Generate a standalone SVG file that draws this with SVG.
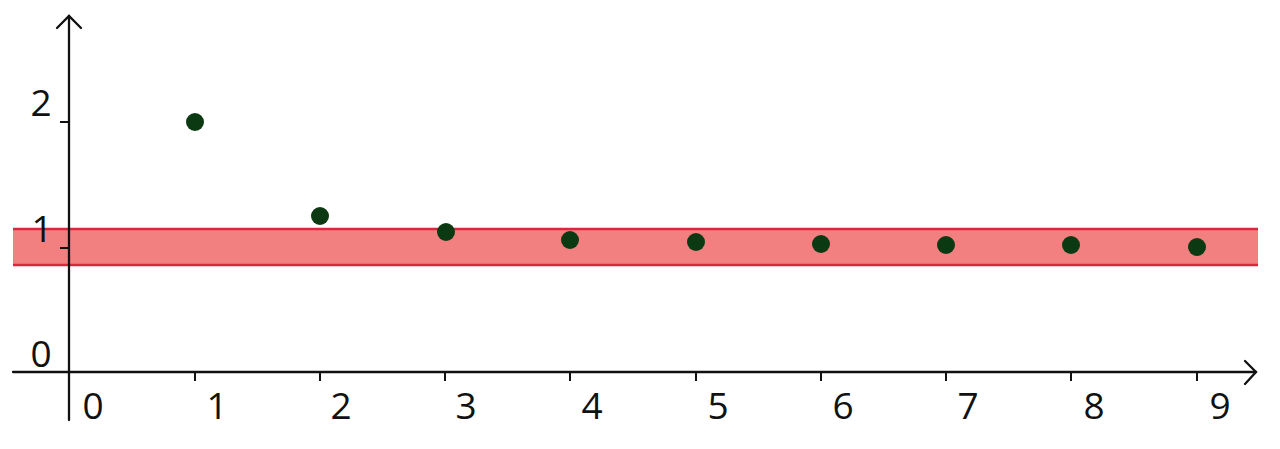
<svg xmlns="http://www.w3.org/2000/svg" width="1280" height="449" viewBox="0 0 1280 449">
<style>
.ax{stroke:#111;stroke-width:2.3;fill:none;stroke-linecap:round}
.tk{stroke:#111;stroke-width:2;fill:none}
.lbl{font-family:"Open Sans","Noto Sans",sans-serif;font-size:37px;fill:#111;text-anchor:middle}
.pt{fill:#0b3a12}
.bandline{stroke:#d8283c;stroke-width:2.5}
</style>
<rect width="1280" height="449" fill="#fff"/>
<g id="band">
<rect x="13" y="229" width="1245" height="36" fill="#f28080"/>
<line class="bandline" x1="13" y1="229" x2="1258" y2="229"/>
<line class="bandline" x1="13" y1="265" x2="1258" y2="265"/>
</g>
<g id="connectors">
<line class="ax" x1="69" y1="16" x2="69" y2="420"/>
<polyline class="ax" points="57,28 69,16 81,28"/>
<line class="ax" x1="13" y1="372" x2="1256" y2="372"/>
<polyline class="ax" points="1245,361 1256,372 1245,384"/>
<line class="tk" x1="60" y1="122" x2="69" y2="122"/>
<line class="tk" x1="60" y1="248" x2="69" y2="248"/>
<line class="tk" x1="195" y1="372" x2="195" y2="381"/>
<line class="tk" x1="320" y1="372" x2="320" y2="381"/>
<line class="tk" x1="445" y1="372" x2="445" y2="381"/>
<line class="tk" x1="570" y1="372" x2="570" y2="381"/>
<line class="tk" x1="696" y1="372" x2="696" y2="381"/>
<line class="tk" x1="821" y1="372" x2="821" y2="381"/>
<line class="tk" x1="946" y1="372" x2="946" y2="381"/>
<line class="tk" x1="1071" y1="372" x2="1071" y2="381"/>
<line class="tk" x1="1197" y1="372" x2="1197" y2="381"/>
</g>
<g id="labels">
<text class="lbl" x="41" y="116">2</text>
<text class="lbl" x="42" y="242">1</text>
<text class="lbl" x="41" y="367">0</text>
<text class="lbl" x="93" y="419">0</text>
<text class="lbl" x="217" y="419">1</text>
<text class="lbl" x="341" y="419">2</text>
<text class="lbl" x="466" y="419">3</text>
<text class="lbl" x="592" y="419">4</text>
<text class="lbl" x="718" y="419">5</text>
<text class="lbl" x="843" y="419">6</text>
<text class="lbl" x="968" y="419">7</text>
<text class="lbl" x="1094" y="419">8</text>
<text class="lbl" x="1220" y="419">9</text>
</g>
<g id="points">
<circle class="pt" cx="195" cy="122" r="9"/>
<circle class="pt" cx="320" cy="216" r="9"/>
<circle class="pt" cx="446" cy="232" r="9"/>
<circle class="pt" cx="570" cy="240" r="9"/>
<circle class="pt" cx="696" cy="242" r="9"/>
<circle class="pt" cx="821" cy="244" r="9"/>
<circle class="pt" cx="946" cy="245" r="9"/>
<circle class="pt" cx="1071" cy="245" r="9"/>
<circle class="pt" cx="1197" cy="247" r="9"/>
</g>
</svg>
